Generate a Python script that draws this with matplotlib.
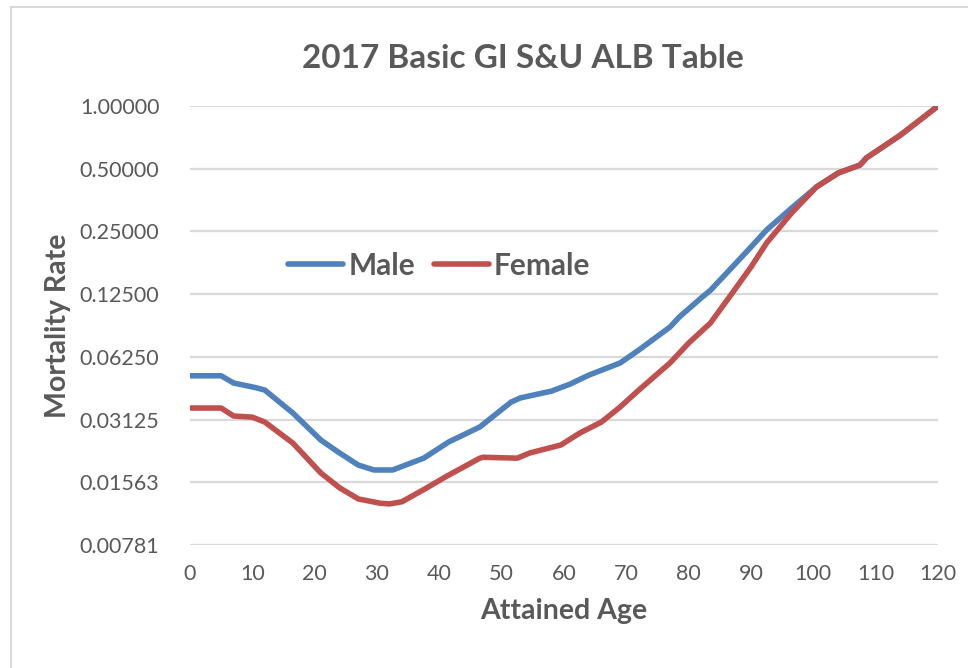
import matplotlib
matplotlib.use("Agg")
import matplotlib.pyplot as plt
from matplotlib.lines import Line2D
from matplotlib.ticker import FixedLocator, NullLocator

plt.rcParams["font.family"] = ["Lato", "DejaVu Sans"]

# values (attained age -> mortality rate)
MALE_AGE = [0, 5, 7, 10.5, 12, 16.5, 21, 24, 27, 29.5, 32.5, 37.5, 41.5, 46.5,
            51.5, 53, 58, 61, 64, 69, 72, 77, 78.5, 82, 83.5, 87, 90, 92.5,
            96.5, 100.5, 104, 107.5, 108.5, 114, 120]
MALE_Q = [0.0507, 0.0507, 0.0468, 0.0445, 0.0433, 0.0336, 0.0249, 0.0216,
          0.0189, 0.0179, 0.0179, 0.0204, 0.0244, 0.0288, 0.0379, 0.0397,
          0.0428, 0.0463, 0.0511, 0.0584, 0.0674, 0.0869, 0.0971, 0.1198,
          0.1305, 0.1687, 0.2105, 0.2540, 0.3235, 0.4086, 0.477, 0.521,
          0.563, 0.726, 1.0]

FEMALE_AGE = [0, 5, 7, 10, 12, 16.5, 21, 24, 27, 30.5, 32, 34, 38, 41, 46.5,
              47, 52.5, 54.5, 59.5, 62.5, 66, 69, 72, 77, 80, 83.5, 87, 90,
              92.5, 96.5, 100.5, 104, 107.5, 108.5, 114, 120]
FEMALE_Q = [0.0355, 0.0355, 0.0325, 0.0321, 0.0304, 0.0241, 0.0173, 0.0147,
            0.0130, 0.0124, 0.0123, 0.0126, 0.0147, 0.0166, 0.0204, 0.0206,
            0.0204, 0.0216, 0.0236, 0.0269, 0.0304, 0.0359, 0.0433, 0.0584,
            0.0728, 0.0909, 0.1266, 0.1687, 0.2200, 0.3063, 0.4086, 0.477,
            0.521, 0.563, 0.726, 1.0]

Y_TICKS = [2.0 ** -k for k in range(8)]
Y_LABELS = ["1.00000", "0.50000", "0.25000", "0.12500",
            "0.06250", "0.03125", "0.01563", "0.00781"]
X_TICKS = list(range(0, 121, 10))

TEXT_COLOR = "#595959"
GRID_COLOR = "#d9d9d9"

fig = plt.figure(figsize=(9.68, 6.68), dpi=100)
ax = fig.add_axes([190 / 968, 1 - 545 / 668, 748 / 968, 439 / 668])

ax.plot(MALE_AGE, MALE_Q, color="#4f81bd", lw=4.0, label="Male",
        solid_joinstyle="round", solid_capstyle="round")
ax.plot(FEMALE_AGE, FEMALE_Q, color="#c0504d", lw=4.0, label="Female",
        solid_joinstyle="round", solid_capstyle="round")

ax.set_yscale("log", base=2)
ax.set_ylim(2.0 ** -7, 1.0)
ax.set_xlim(0, 120)
ax.yaxis.set_major_locator(FixedLocator(Y_TICKS))
ax.yaxis.set_minor_locator(NullLocator())
ax.set_yticklabels(Y_LABELS)
ax.set_xticks(X_TICKS)

ax.grid(axis="y", color=GRID_COLOR, lw=1.6)
ax.set_axisbelow(True)
for s in ax.spines.values():
    s.set_visible(False)
ax.tick_params(length=0, labelsize=15.5, colors=TEXT_COLOR)
ax.tick_params(axis="y", pad=22)
ax.tick_params(axis="x", pad=14)

ax.set_xlabel("Attained Age", fontsize=20.5, fontweight="bold",
              color=TEXT_COLOR, labelpad=10)
ax.set_ylabel("Mortality Rate", fontsize=20.5, fontweight="bold",
              color=TEXT_COLOR, labelpad=6)
fig.text(523 / 968, 1 - 58 / 668, "2017 Basic GI S&U ALB Table",
         fontsize=24, fontweight="bold", color=TEXT_COLOR,
         ha="center", va="center")

leg = ax.legend(loc="center left", bbox_to_anchor=(0.131, 0.636),
                ncol=2, frameon=False, borderpad=0, borderaxespad=0,
                handlelength=1.85, handletextpad=0.17, columnspacing=0.62,
                prop={"size": 21.5, "weight": "bold"})
for t in leg.get_texts():
    t.set_color(TEXT_COLOR)

# chart area border (only top and left visible in the crop)
fig.add_artist(Line2D([11 / 968, 11 / 968], [0, 1 - 7 / 668],
                      color=GRID_COLOR, lw=1.5))
fig.add_artist(Line2D([11 / 968, 1], [1 - 7 / 668, 1 - 7 / 668],
                      color=GRID_COLOR, lw=1.5))

fig.savefig("out.png", dpi=100)
